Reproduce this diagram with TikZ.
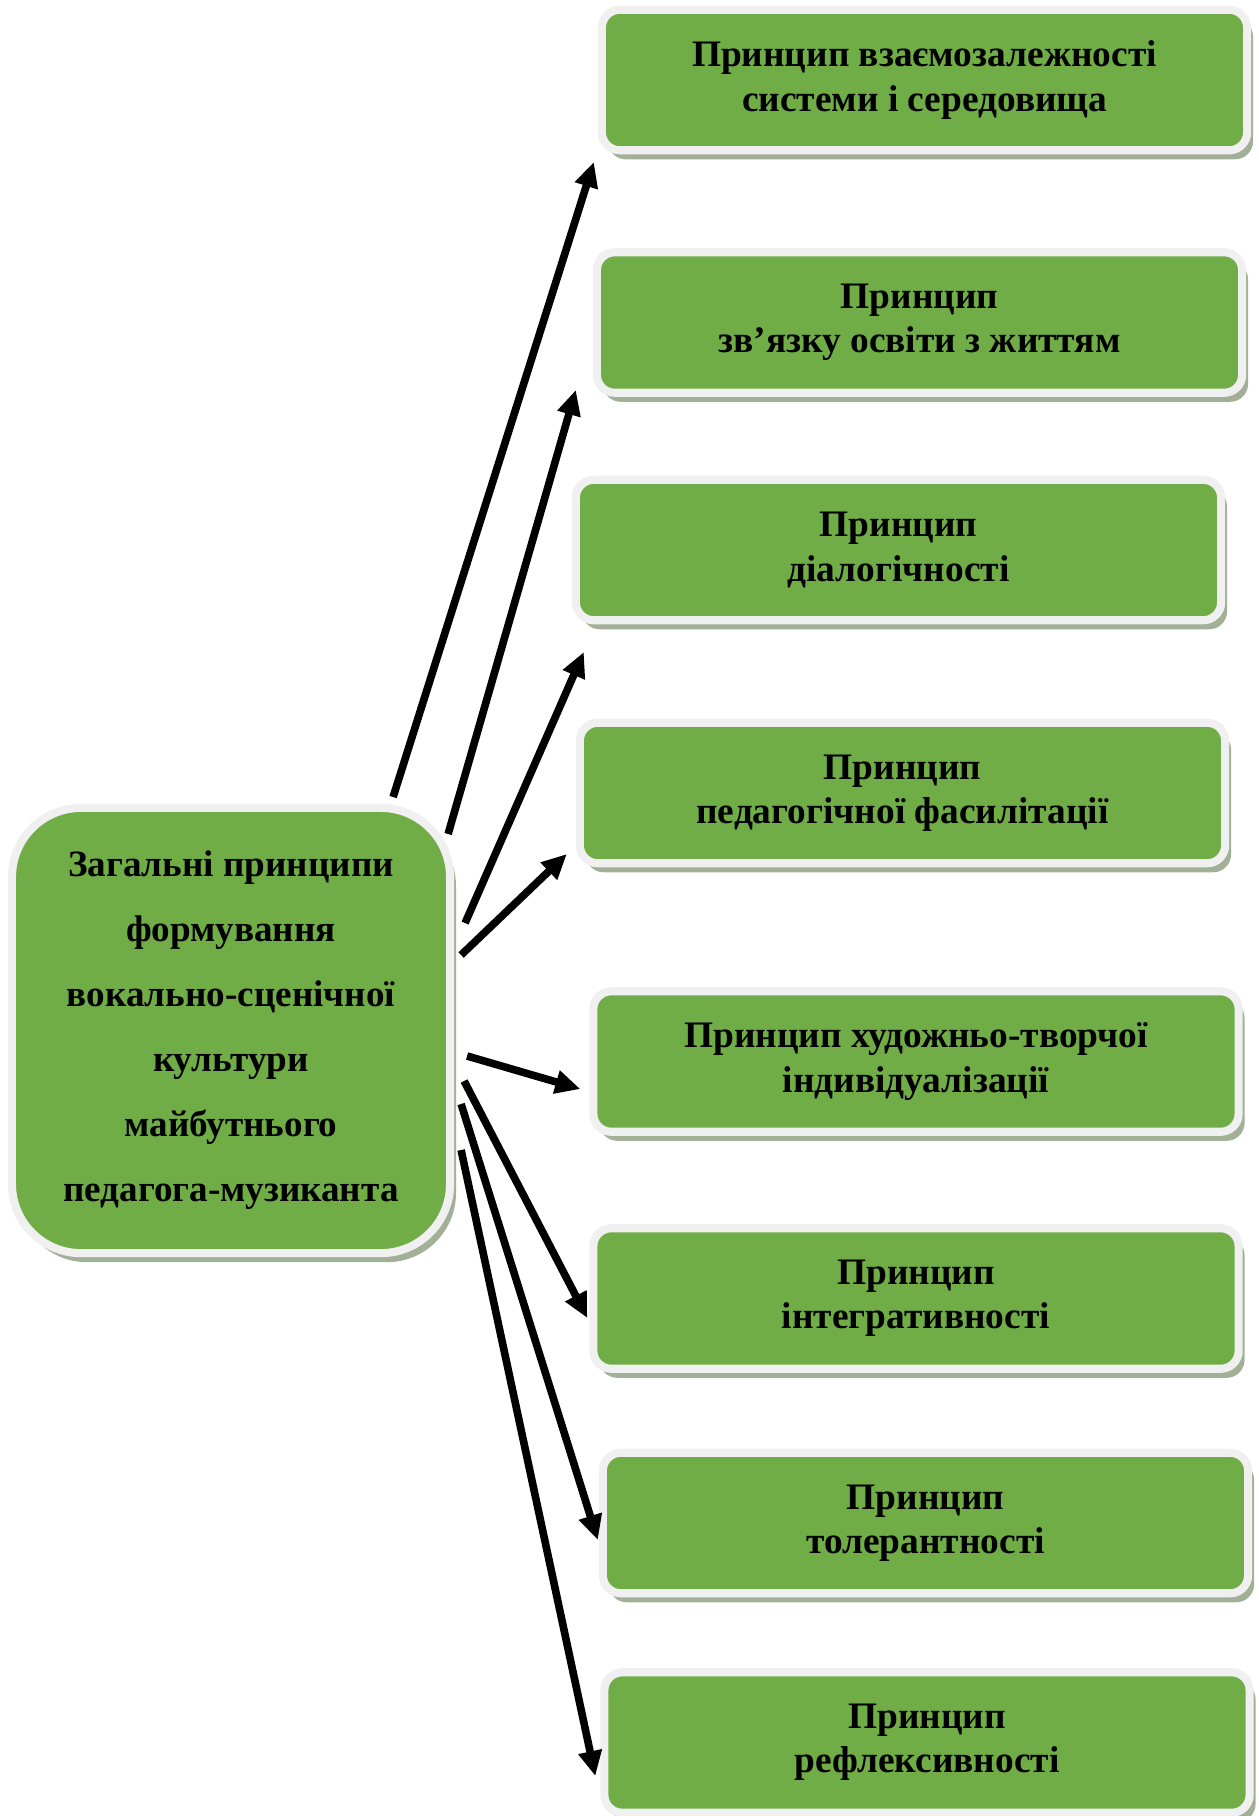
\documentclass[tikz,border=0pt]{standalone}
\usepackage{fontspec}
\setmainfont{Liberation Serif}
\usetikzlibrary{calc,shadows,arrows.meta}

\definecolor{boxgreen}{HTML}{70AD47}
\definecolor{boxframe}{HTML}{F0F0F0}
\definecolor{boxshadow}{HTML}{A2B098}

\begin{document}
\begin{tikzpicture}[
		x=0.42pt,
		y=-0.42pt,
		>={Triangle[length=10.5pt,width=9.5pt]},
		principle/.style={
			rectangle,
			draw=boxframe,
			line width=3.4pt,
			fill=boxgreen,
			rounded corners=7.5pt,
			general shadow={fill=boxshadow,shadow xshift=2.5pt,shadow yshift=-3.8pt},
			minimum width=271pt,
			minimum height=59pt,
			inner sep=0pt,
			align=center,
			font=\fontsize{15.7}{18.5}\selectfont\bfseries
		},
		general/.style={
			principle,
			rounded corners=29pt,
			minimum width=184pt,
			minimum height=187pt,
			font=\fontsize{15.6}{27.3}\selectfont\bfseries
		},
		link/.style={->,line width=3.2pt}
		]
		\useasboundingbox (0,0) rectangle (1259,1816);

		\node[general] (main) at (231,1030.5) {Загальні принципи\\формування\\вокально-сценічної\\культури\\майбутнього\\педагога-музиканта};

		\node[principle] (p1) at (924.5,80) {Принцип взаємозалежності\\системи і середовища};
		\node[principle] (p2) at (919.5,322.5) {Принцип\\зв’язку освіти з життям};
		\node[principle] (p3) at (898.5,550) {Принцип\\діалогічності};
		\node[principle] (p4) at (902.5,793) {Принцип\\педагогічної фасилітації};
		\node[principle] (p5) at (916,1061.5) {Принцип художньо-творчої\\індивідуалізації};
		\node[principle] (p6) at (916,1298.5) {Принцип\\інтегративності};
		\node[principle] (p7) at (925.5,1523) {Принцип\\толерантності};
		\node[principle] (p8) at (927,1742.5) {Принцип\\рефлексивності};

		\draw[link] ($(main.east)+(-61,-233.5)$) -- ($(p1.west)+(-4,82)$);
		\draw[link] ($(main.east)+(-6,-196.5)$) -- ($(p2.west)+(-17,67.5)$);
		\draw[link] ($(main.east)+(11,-107.5)$) -- ($(p3.west)+(12,102)$);
		\draw[link] ($(main.east)+(7,-75.5)$) -- ($(p4.west)+(-9,61)$);
		\draw[link] ($(main.east)+(13,25.5)$) -- ($(p5.west)+(-9,27.5)$);
		\draw[link] ($(main.east)+(10,50.5)$) -- ($(p6.west)+(-2,19.5)$);
		\draw[link] ($(main.east)+(7,73.5)$) -- ($(p7.west)+(-1,17)$);
		\draw[link] ($(main.east)+(7,119.5)$) -- ($(p8.west)+(-5,33.5)$);
\end{tikzpicture}
\end{document}
